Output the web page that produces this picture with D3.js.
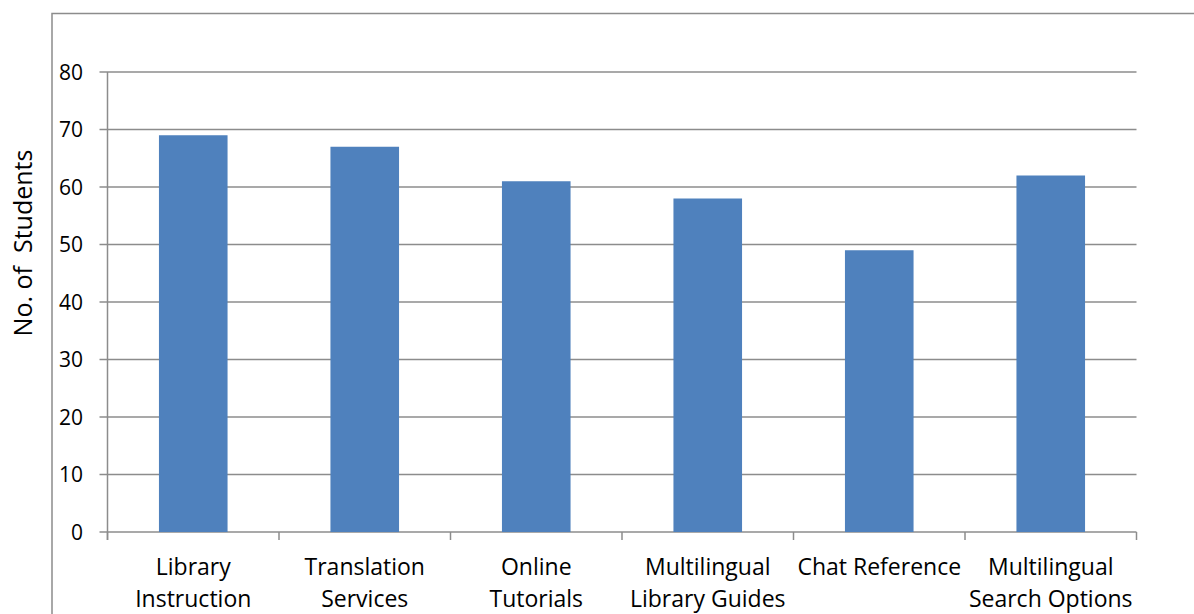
<!DOCTYPE html>
<html><head><meta charset="utf-8">
<script src="https://cdn.jsdelivr.net/npm/d3@7"></script>
<style>body{margin:0;background:#fff}svg text{font-family:"Open Sans",sans-serif;fill:#000}</style>
</head><body>
<svg id="c" width="1194" height="614"></svg>
<script>
const categories = [["Library","Instruction"],["Translation","Services"],["Online","Tutorials"],["Multilingual","Library Guides"],["Chat Reference"],["Multilingual","Search Options"]];
const values = [69, 67, 61, 58, 49, 62];
const yTicks = [0,10,20,30,40,50,60,70,80];
const yLabel = "No. of  Students";

const svg = d3.select("#c");
const L = 107.5, R = 1136.5, T = 72, B = 532;
const x = d3.scaleBand().domain(d3.range(categories.length)).range([L, R]).padding(0);
const y = d3.scaleLinear().domain([0, 80]).range([B, T]);
const grid = "#8c8c8c";

// outer border
svg.append("path").attr("d", `M52,614 V13.5 H1194`).attr("fill","none").attr("stroke",grid).attr("stroke-width",1.5);

// gridlines + y ticks
svg.append("g").selectAll("line").data(yTicks).join("line")
  .attr("x1", L - 8).attr("x2", R).attr("y1", d => y(d)).attr("y2", d => y(d))
  .attr("stroke", grid).attr("stroke-width", 1.5);
// y axis line
svg.append("line").attr("x1",L).attr("x2",L).attr("y1",T).attr("y2",B+8).attr("stroke",grid).attr("stroke-width",1.5);
// x ticks
svg.append("g").selectAll("line").data(d3.range(categories.length+1)).join("line")
  .attr("x1", i => L + i*x.bandwidth()).attr("x2", i => L + i*x.bandwidth())
  .attr("y1", B).attr("y2", B+8).attr("stroke", grid).attr("stroke-width", 1.5);

// bars
svg.append("g").selectAll("rect").data(values).join("rect")
  .attr("x", (d,i) => x(i) + x.bandwidth()*0.3)
  .attr("width", x.bandwidth()*0.4)
  .attr("y", d => y(d)).attr("height", d => B - y(d))
  .attr("fill", "#4F81BD");

// y tick labels
svg.append("g").selectAll("text").data(yTicks).join("text")
  .attr("x", 83).attr("y", d => y(d)).attr("dy","0.36em")
  .attr("text-anchor","end").attr("font-size", 21).text(d => d);

// category labels
const cl = svg.append("g").selectAll("text").data(categories).join("text")
  .attr("text-anchor","middle").attr("font-size", 23)
  .attr("transform", (d,i) => `translate(${x(i)+x.bandwidth()/2},0)`);
cl.selectAll("tspan").data(d => d).join("tspan")
  .attr("x", 0).attr("y", (d,j) => 575 + j*32).text(d => d);

// y axis title
svg.append("text").attr("transform","translate(32,243) rotate(-90)")
  .attr("text-anchor","middle").attr("font-size",25).attr("xml:space","preserve")
  .style("white-space","pre").text(yLabel);
</script>
</body></html>
